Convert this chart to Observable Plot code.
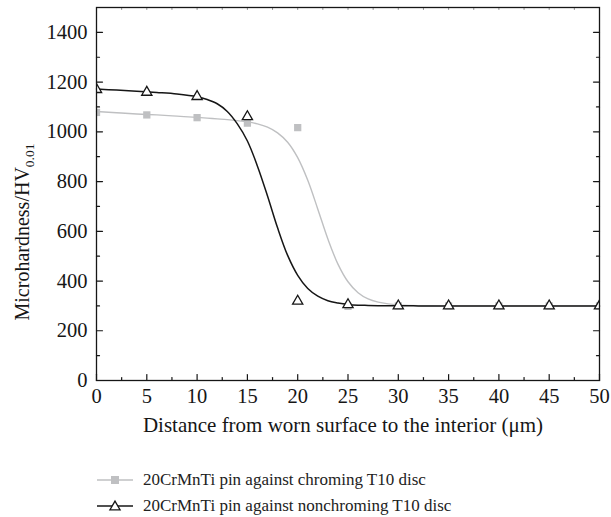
<!DOCTYPE html>
<html>
<head>
<meta charset="utf-8">
<script src="https://cdn.jsdelivr.net/npm/d3@7"></script>
<script src="https://cdn.jsdelivr.net/npm/@observablehq/plot@0.6"></script>
<style>
  body { margin: 0; background: #fff; font-family: "Liberation Serif", "DejaVu Serif", serif; }
  svg text { font-family: "Liberation Serif", "DejaVu Serif", serif; }
  #legend { position: relative; height: 72px; font-size: 17px; color: #222; }
  .row { position: absolute; left: 96px; height: 20px; display: flex; align-items: center; }
  .row span { margin-left: 9px; white-space: nowrap; }
</style>
</head>
<body>
<div id="chart"></div>
<div id="legend"></div>
<script>
// ---- data ----
const distance = [0, 5, 10, 15, 20, 25, 30, 35, 40, 45, 50];
const chroming = [1078, 1068, 1057, 1035, 1017, 298, 300, 300, 300, 300, 300];
const nonchroming = [1170, 1159, 1142, 1061, 319, 305, 300, 300, 300, 300, 300];

// fitted curves
const fitX = [0, 2, 4, 6, 8, 10, 11, 12, 13, 14, 15, 16, 17, 18, 19, 20, 21, 22, 23, 24, 25, 26, 27, 28, 29, 30, 31, 32, 33, 34, 36, 40, 45, 50];
const fitNonchroming = [1172, 1168, 1163, 1158, 1152, 1141, 1130, 1113, 1082, 1032, 963, 862, 742, 614, 503, 423, 370, 339, 321, 312, 306, 303, 302, 301, 300.5, 300.3, 300.2, 300.1, 300, 300, 300, 300, 300, 300];
const fitChroming = [1082, 1077, 1072, 1068, 1063, 1058, 1055, 1052, 1049, 1045, 1040, 1032, 1019, 996, 958, 896, 805, 689, 569, 468, 397, 353, 328, 315, 308, 304, 302, 301, 300.5, 300.2, 300, 300, 300, 300];

const xTicks = [0, 5, 10, 15, 20, 25, 30, 35, 40, 45, 50];
const xMinor = [2.5, 7.5, 12.5, 17.5, 22.5, 27.5, 32.5, 37.5, 42.5, 47.5];
const yTicks = [0, 200, 400, 600, 800, 1000, 1200, 1400];
const yMinor = [100, 300, 500, 700, 900, 1100, 1300];

const seriesNames = ["20CrMnTi pin against chroming T10 disc", "20CrMnTi pin against nonchroming T10 disc"];
const xLabel = "Distance from worn surface to the interior (\u03bcm)";

// ---- build ----
const pts = (xs, ys) => xs.map((x, i) => ({x, y: ys[i]}));
const tickShape = {draw(ctx, l) { ctx.moveTo(0, 0); ctx.lineTo(0, -l); }};
const ink = "#161616";
const gray = "#bfc0c2";
const serif = '"Liberation Serif", "DejaVu Serif", serif';

const tick = (data, opts) => Plot.vector(data, {shape: tickShape, anchor: "start", stroke: ink, strokeWidth: 1.2, ...opts});

const plot = Plot.plot({
  width: 611,
  height: 445,
  marginLeft: 96,
  marginRight: 12,
  marginTop: 7,
  marginBottom: 65,
  style: {fontFamily: serif, background: "#fff", color: ink},
  x: {domain: [0, 50]},
  y: {domain: [0, 1500]},
  marks: [
    // ticks (inward)
    tick(xTicks, {x: d => d, y: () => 0, length: 6, rotate: 0}),
    tick(xMinor, {x: d => d, y: () => 0, length: 3, rotate: 0}),
    tick(xTicks.concat(xMinor), {x: d => d, y: () => 1500, length: 2, rotate: 180, strokeWidth: 0.8, stroke: "#777"}),
    tick(yTicks, {x: () => 0, y: d => d, length: 6, rotate: 90}),
    tick(yMinor, {x: () => 0, y: d => d, length: 3, rotate: 90}),
    tick(yTicks, {x: () => 50, y: d => d, length: 6, rotate: -90}),
    tick(yMinor, {x: () => 50, y: d => d, length: 3, rotate: -90}),
    Plot.axisX(xTicks, {tickSize: 0, tickPadding: 8, fontSize: 20.5, label: null, fill: ink, tickFormat: d => String(d)}),
    Plot.axisY(yTicks, {tickSize: 0, tickPadding: 9, fontSize: 20.5, label: null, fill: ink, tickFormat: d => String(d)}),
    Plot.text([xLabel], {text: d => d, frameAnchor: "bottom", lineAnchor: "top", dy: 37, dx: -5, fontSize: 21, fill: ink}),
    // series
    Plot.line(pts(fitX, fitChroming), {x: "x", y: "y", curve: "catmull-rom", stroke: gray, strokeWidth: 1.4}),
    Plot.dot(pts(distance, chroming), {x: "x", y: "y", symbol: "square", r: 4.1, fill: gray, stroke: "none", clip: true}),
    Plot.line(pts(fitX, fitNonchroming), {x: "x", y: "y", curve: "catmull-rom", stroke: ink, strokeWidth: 1.5}),
    Plot.dot(pts(distance, nonchroming), {x: "x", y: "y", symbol: "triangle", r: 3.8, fill: "#fff", stroke: ink, strokeWidth: 1.3, clip: true}),
    Plot.frame({stroke: ink, strokeWidth: 1.3})
  ]
});
d3.select(plot).attr("font-family", serif).style("font-family", serif);

// y label with subscript
const yl = d3.select(plot).append("text")
  .attr("transform", "translate(29,232) rotate(-90)")
  .attr("text-anchor", "middle")
  .attr("font-size", 20)
  .attr("font-family", serif)
  .attr("fill", ink);
yl.append("tspan").text("Microhardness/HV");
yl.append("tspan").attr("dy", 5).attr("font-size", 13.5).text("0.01");

document.getElementById("chart").appendChild(plot);

// legend
const legend = d3.select("#legend");
const rows = [
  {name: seriesNames[0], color: gray, symbol: "square"},
  {name: seriesNames[1], color: ink, symbol: "triangle"}
];
rows.forEach((r, i) => {
  const row = legend.append("div").attr("class", "row").style("top", (25 + i * 26) + "px");
  const s = row.append("svg").attr("width", 38).attr("height", 20);
  s.append("line").attr("x1", 1).attr("x2", 37).attr("y1", 10).attr("y2", 10)
    .attr("stroke", r.color).attr("stroke-width", 1.4);
  if (r.symbol === "square") {
    s.append("rect").attr("x", 15).attr("y", 6).attr("width", 8).attr("height", 8).attr("fill", gray);
  } else {
    s.append("path").attr("d", d3.symbol(d3.symbolTriangle, 3.8 * 3.8 * Math.PI)())
      .attr("transform", "translate(19,11)").attr("fill", "#fff").attr("stroke", ink).attr("stroke-width", 1.3);
  }
  row.append("span").text(r.name);
});
</script>
</body>
</html>
